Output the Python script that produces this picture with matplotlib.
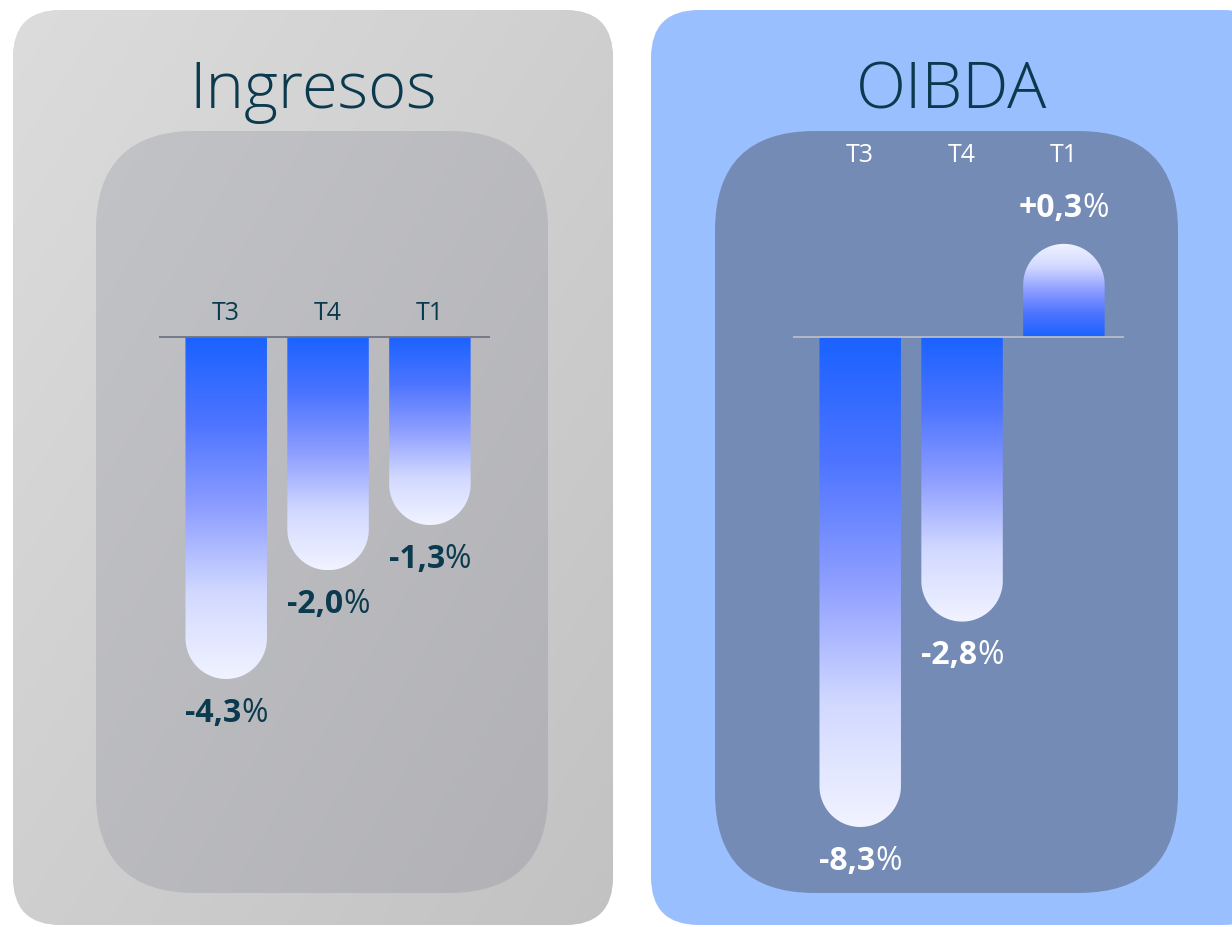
import numpy as np
import matplotlib
matplotlib.use("Agg")
import matplotlib.pyplot as plt
from matplotlib.patches import FancyBboxPatch, Polygon
from matplotlib.colors import LinearSegmentedColormap
from matplotlib.offsetbox import TextArea, HPacker, AnnotationBbox
from matplotlib.transforms import blended_transform_factory

# === Data ===
quarters = ["T3", "T4", "T1"]
ingresos = [-4.3, -2.0, -1.3]
oibda = [-8.3, -2.8, 0.3]
ingresos_txt = ["-4,3", "-2,0", "-1,3"]
oibda_txt = ["-8,3", "-2,8", "+0,3"]

FONT = ["Open Sans", "DejaVu Sans"]
DARK = "#0b3a4e"
W, H = 1232, 928

bar_cmap = LinearSegmentedColormap.from_list(
    "bar", [(0, "#1a62ff"), (0.25, "#4d74ff"), (0.5, "#8e9eff"),
            (0.75, "#d2d9ff"), (1, "#f1f3ff")])

fig = plt.figure(figsize=(W / 100, H / 100), dpi=100)

# background axes in pixel coordinates (y pointing down)
bg = fig.add_axes([0, 0, 1, 1], zorder=0)
bg.set_xlim(0, W)
bg.set_ylim(H, 0)
bg.set_autoscale_on(False)
bg.axis("off")


def panel(x, y, w, h, r, z, c0, c1=None):
    p = FancyBboxPatch((x, y), w, h, boxstyle=f"round,pad=0,rounding_size={r}",
                       fc=c0, ec="none", zorder=z)
    bg.add_patch(p)
    if c1 is not None:
        gx, gy = np.meshgrid(np.linspace(0, 1, 200), np.linspace(0, 1, 200))
        g = (gx + gy) / 2
        cm = LinearSegmentedColormap.from_list("p", [c0, c1])
        im = bg.imshow(g, extent=(x, x + w, y + h, y), origin="upper",
                       cmap=cm, aspect="auto", interpolation="bilinear",
                       zorder=z + 0.5)
        im.set_clip_path(p)


panel(13, 11, 600, 915, 48, 1, "#dcdcdc", "#c2c2c2")
panel(96, 132, 452, 762, 100, 2, "#c2c3c7", "#b1b1b6")
panel(651, 11, 620, 915, 48, 1, "#99bfff")
panel(715, 132, 463, 762, 100, 2, "#748bb5")


def fwd(v):
    return np.sign(v) * np.sqrt(np.abs(v))


def inv(v):
    return np.sign(v) * v ** 2


def make_axes(left_px, zero_px, longest, longest_px):
    top_px, bot_px = 140, 880
    ax = fig.add_axes([left_px / W, 1 - bot_px / H, 331 / W, (bot_px - top_px) / H],
                      zorder=1)
    ax.set_facecolor("none")
    ax.set_yscale("function", functions=(fwd, inv))
    k = longest_px / abs(fwd(longest))
    ax.set_ylim(inv(-(bot_px - zero_px) / k), inv((zero_px - top_px) / k))
    ax.set_xlim(-0.66, 2.59)
    ax.axis("off")
    return ax


def draw_panel(ax, vals, txts, col, line_col, qy):
    ax.axhline(0, color=line_col, lw=1.3, zorder=3)
    bars = ax.bar(range(len(vals)), vals, width=0.8, color="none", edgecolor="none")
    ax.set_xlim(-0.66, 2.59)
    inv_bg = bg.transData.inverted()
    for rect, v in zip(bars, vals):
        bb = rect.get_window_extent()
        (x0, y0), (x1, y1) = inv_bg.transform([[bb.x0, bb.y0], [bb.x1, bb.y1]])
        ymin, ymax = min(y0, y1), max(y0, y1)
        xc, r = (x0 + x1) / 2, (x1 - x0) / 2
        t = np.linspace(0, np.pi, 60)
        if v < 0:
            base, tip = ymin, ymax
            arc = np.column_stack([xc + r * np.cos(t), tip - r + r * np.sin(t)])
            grad = np.linspace(0, 1, 256)[:, None]
        else:
            base, tip = ymax, ymin
            arc = np.column_stack([xc + r * np.cos(t), tip + r - r * np.sin(t)])
            grad = np.linspace(1, 0, 256)[:, None]
        pts = np.vstack([[[x0, base], [x1, base]], arc])
        clip = Polygon(pts, closed=True, fc="none", ec="none", zorder=5)
        bg.add_patch(clip)
        im = bg.imshow(grad, extent=(x0, x1, ymax, ymin), origin="upper",
                       cmap=bar_cmap, aspect="auto", interpolation="bilinear",
                       zorder=6)
        im.set_clip_path(clip)

    for i, (v, s) in enumerate(zip(vals, txts)):
        t1 = TextArea(s, textprops=dict(color=col, fontsize=23, fontweight="bold", family=FONT))
        t2 = TextArea("%", textprops=dict(color=col, fontsize=23, family=FONT))
        box = HPacker(children=[t1, t2], align="baseline", pad=0, sep=0)
        dy = -24 if v < 0 else 26
        ab = AnnotationBbox(box, (i, v), xybox=(0, dy), xycoords="data",
                            boxcoords="offset points", frameon=False,
                            box_alignment=(0.5, 0.5), annotation_clip=False)
        ax.add_artist(ab)

    blend = blended_transform_factory(ax.transData, bg.transData)
    for i, q in enumerate(quarters):
        ax.text(i, qy, q, transform=blend, ha="center", va="center",
                fontsize=18, color=col, family=FONT)


ax1 = make_axes(159, 338, -4.3, 342)
draw_panel(ax1, ingresos, ingresos_txt, DARK, "#6f7383", 314)

ax2 = make_axes(793, 338, -8.3, 490)
draw_panel(ax2, oibda, oibda_txt, "white", "#b8bcc8", 156)

bg.text(313, 92, "Ingresos", ha="center", va="center", fontsize=47,
        fontweight="light", color=DARK, family=FONT, zorder=10)
bg.text(952, 92, "OIBDA", ha="center", va="center", fontsize=47,
        fontweight="light", color=DARK, family=FONT, zorder=10)

fig.savefig("out.png", dpi=100)
